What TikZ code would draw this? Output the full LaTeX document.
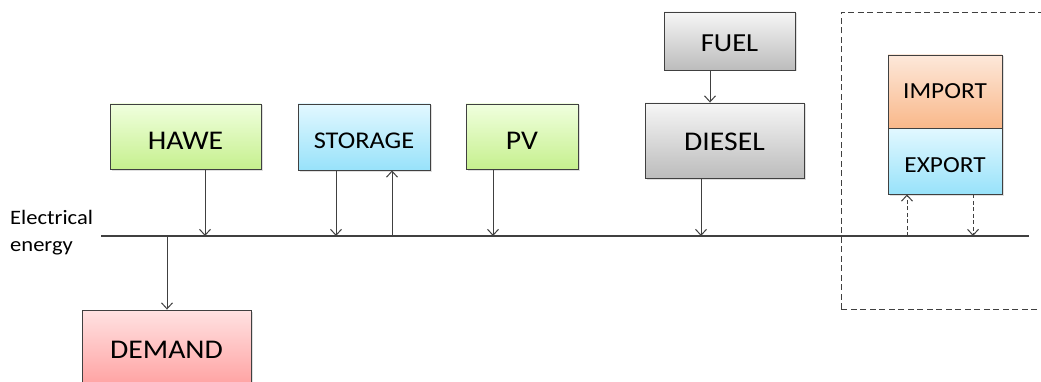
\documentclass[tikz,border=0pt]{standalone}
\usepackage{fontspec}
\setmainfont[FakeStretch=1.1]{Carlito}
\usetikzlibrary{arrows.meta}
\usetikzlibrary{positioning}
\usetikzlibrary{shadows}

\definecolor{greentop}{RGB}{240,255,222}
\definecolor{greenbot}{RGB}{198,240,142}
\definecolor{bluetop}{RGB}{226,248,255}
\definecolor{bluebot}{RGB}{152,226,250}
\definecolor{graytop}{RGB}{246,246,246}
\definecolor{graybot}{RGB}{188,188,188}
\definecolor{orangetop}{RGB}{253,232,218}
\definecolor{orangebot}{RGB}{249,184,138}
\definecolor{redtop}{RGB}{255,226,226}
\definecolor{redbot}{RGB}{255,158,158}
\definecolor{linegray}{RGB}{64,64,64}

% lower a label inside its box without changing the box
\newcommand{\droptext}[2]{\raisebox{-#1}[\height][0pt]{#2}}

\begin{document}
\begin{tikzpicture}[
    x=1pt, y=1pt,
    box/.style={draw=linegray, line width=0.9pt, rectangle, inner sep=0pt,
        drop shadow={shadow xshift=1.5pt, shadow yshift=-1.5pt, opacity=0.25}},
    greenbox/.style={box, top color=greentop, bottom color=greenbot},
    bluebox/.style={box, top color=bluetop, bottom color=bluebot},
    graybox/.style={box, top color=graytop, bottom color=graybot},
    orangebox/.style={box, top color=orangetop, bottom color=orangebot},
    redbox/.style={box, top color=redtop, bottom color=redbot},
    arr/.style={-{Straight Barb[length=6pt, width=11pt]}, draw=linegray, line width=1pt},
    dasharr/.style={arr, dash pattern=on 4pt off 2.5pt}
]

    \clip (0,0) rectangle (1041,381);
    \fill[white] (0,0) rectangle (1041,381);

    % Import / export area
    \draw[linegray, line width=0.9pt, dash pattern=on 6pt off 3.5pt] (841,72) rectangle (1060,369);

    % Producers
    \node (hawe) [greenbox, minimum width=151pt, minimum height=65pt, font=\fontsize{27}{31}\selectfont] at (185.5,244.5) {\droptext{4.5pt}{HAWE}};
    \node (storage) [bluebox, minimum width=132pt, minimum height=66pt, font=\fontsize{24}{28}\selectfont] at (364,244) {\droptext{3.5pt}{STORAGE}};
    \node (pv) [greenbox, minimum width=112pt, minimum height=65pt, font=\fontsize{27}{31}\selectfont] at (522,244.5) {\droptext{4.5pt}{PV}};
    \node (fuel) [graybox, minimum width=131pt, minimum height=58pt, font=\fontsize{26}{30}\selectfont] at (729.5,340) {\droptext{2pt}{FUEL}};
    \node (diesel) [graybox, minimum width=159pt, minimum height=75pt, font=\fontsize{27}{31}\selectfont] at (724.5,240.5) {\droptext{1.5pt}{DIESEL}};

    % Grid connection
    \node (import) [orangebox, minimum width=114pt, minimum height=73pt, font=\fontsize{23}{27}\selectfont] at (945,289.5) {IMPORT};
    \node (export) [bluebox, minimum width=114pt, minimum height=66pt, font=\fontsize{23}{27}\selectfont] at (945,220) {\droptext{4pt}{EXPORT}};

    % Consumer
    \node (demand) [redbox, minimum width=169pt, minimum height=80pt, font=\fontsize{27}{31}\selectfont] at (166.5,31) {DEMAND};

    % Electrical bus
    \coordinate (busw) at (101,145);
    \coordinate (buse) at (1029,145);
    \draw[linegray, line width=1.2pt] (busw) -- (buse);
    \node (elabel) [anchor=west, align=left, inner sep=0pt, font=\fontsize{20.5}{27}\selectfont] at (10,148) {Electrical\\energy};

    % Taps on the bus
    \coordinate (tdemand) at (167,145);
    \coordinate (thawe) at (205,145);
    \coordinate (tstoin) at (336,145);
    \coordinate (tstoout) at (392,145);
    \coordinate (tpv) at (493,145);
    \coordinate (tdiesel) at (701,145);
    \coordinate (timport) at (907,145);
    \coordinate (texport) at (973,145);

    % Connect arrows
    \draw[arr] (hawe.south -| thawe) -- (thawe);
    \draw[arr] (storage.south -| tstoin) -- (tstoin);
    \draw[arr] (tstoout) -- (storage.south -| tstoout);
    \draw[arr] (pv.south -| tpv) -- (tpv);
    \draw[arr] ([xshift=-19.5pt]fuel.south) -- ([xshift=-19.5pt]fuel.south |- diesel.north);
    \draw[arr] (diesel.south -| tdiesel) -- (tdiesel);
    \draw[arr] (tdemand) -- (tdemand |- demand.north);
    \draw[dasharr] (timport) -- (export.south -| timport);
    \draw[dasharr] (export.south -| texport) -- (texport);

\end{tikzpicture}
\end{document}
